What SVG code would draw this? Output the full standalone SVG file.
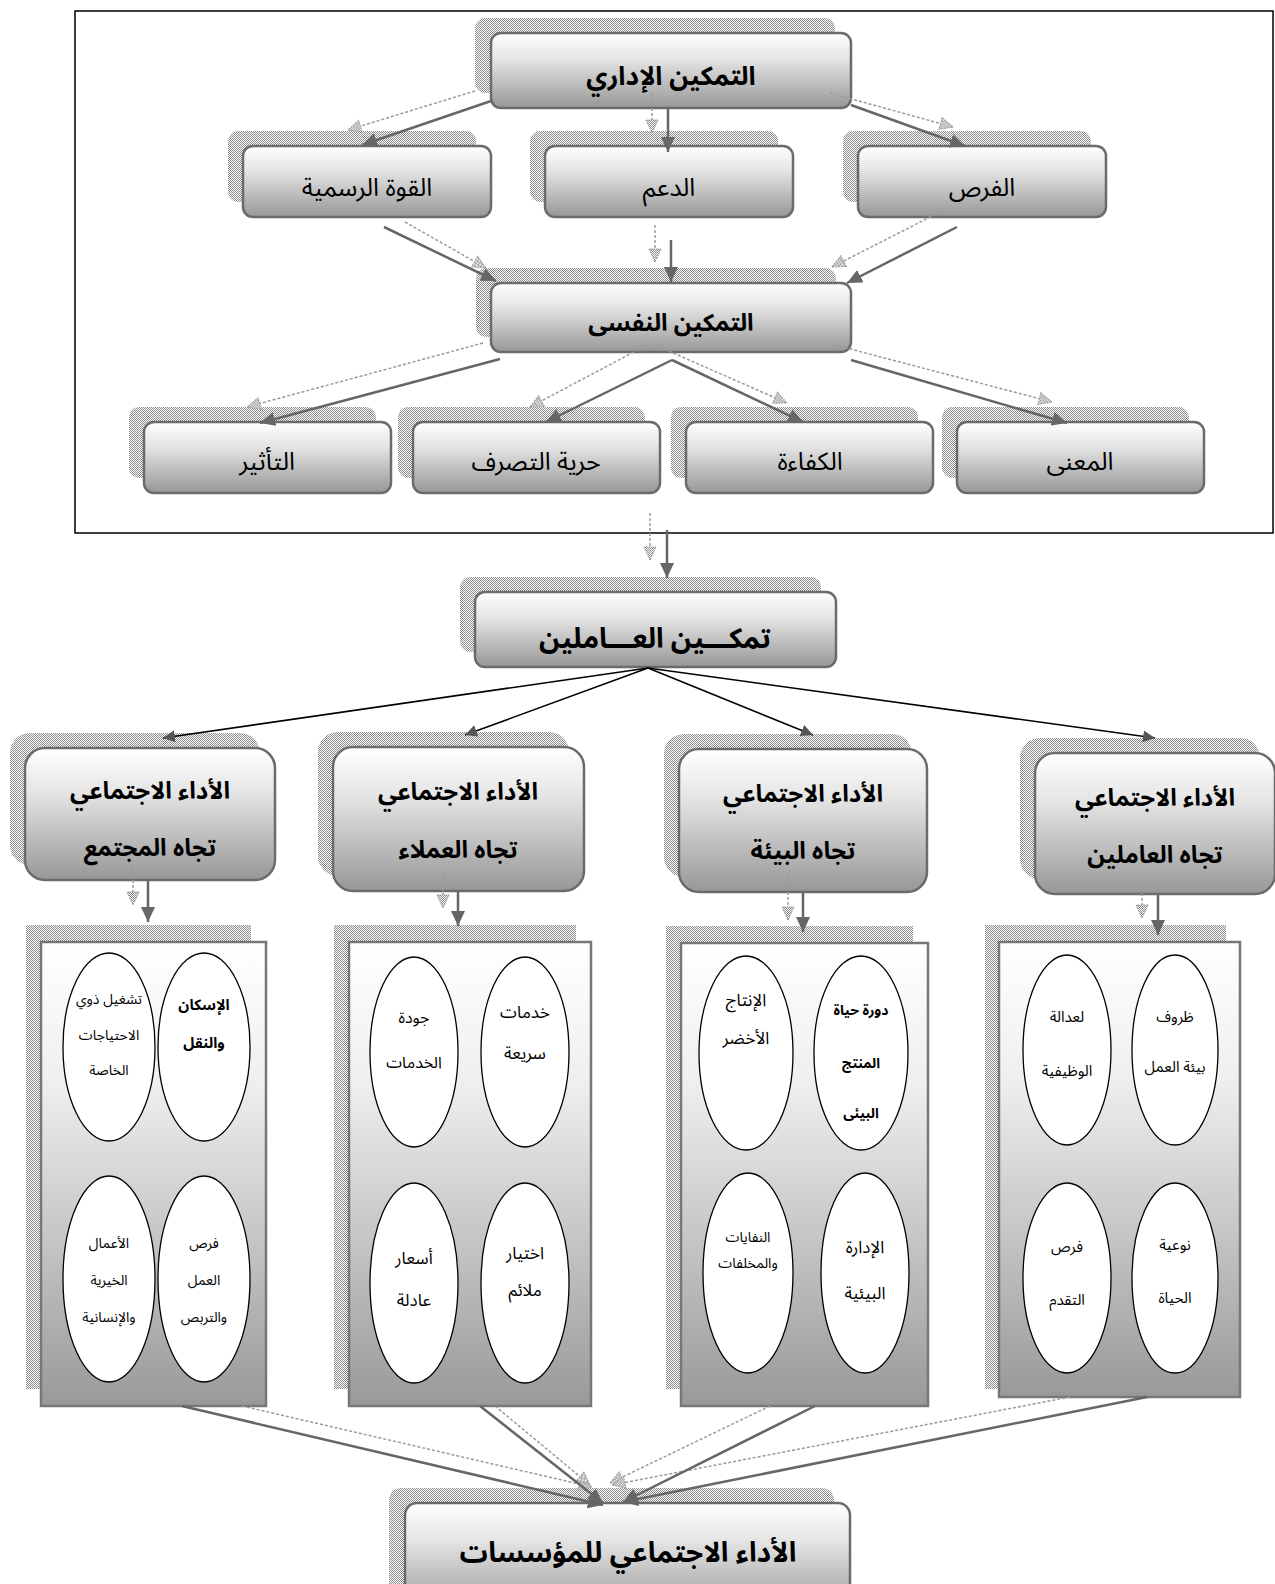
<svg xmlns="http://www.w3.org/2000/svg" width="1275" height="1584" viewBox="0 0 1275 1584">
  <style>
    .t { font-family: "Noto Sans Arabic", "DejaVu Sans", "Liberation Sans", sans-serif; fill: #000; text-anchor: middle; }
    .b { font-weight: bold; }
    .box { fill: url(#boxG); stroke: #6b6b6b; stroke-width: 2.5; }
    .panel { fill: url(#panelG); stroke: #777; stroke-width: 2.5; }
    .shd { fill: url(#chk); }
    .ell { fill: #fff; stroke: #000; stroke-width: 1.3; }
    .sol { stroke: #666; stroke-width: 2.5; fill: none; marker-end: url(#ah); }
    .dot { stroke: #9a9a9a; stroke-width: 1.5; stroke-dasharray: 3 2; fill: none; marker-end: url(#ahS); }
    .blk { stroke: #000; stroke-width: 1.6; fill: none; marker-end: url(#ahK); }
  </style>
  <defs>
    <pattern id="chk" width="2" height="2" patternUnits="userSpaceOnUse">
      <rect width="2" height="2" fill="#fff"/>
      <rect width="1" height="1" fill="#8a8a8a"/>
      <rect x="1" y="1" width="1" height="1" fill="#8a8a8a"/>
    </pattern>
    <linearGradient id="boxG" x1="0" y1="0" x2="0" y2="1">
      <stop offset="0" stop-color="#ffffff"/>
      <stop offset="0.35" stop-color="#e4e4e4"/>
      <stop offset="1" stop-color="#979797"/>
    </linearGradient>
    <linearGradient id="panelG" x1="0" y1="0" x2="0" y2="1">
      <stop offset="0" stop-color="#ffffff"/>
      <stop offset="0.3" stop-color="#efefef"/>
      <stop offset="1" stop-color="#999999"/>
    </linearGradient>
    <marker id="ah" markerUnits="userSpaceOnUse" markerWidth="16" markerHeight="14" refX="15" refY="7" orient="auto">
      <path d="M0,0 L15,7 L0,14 Z" fill="#666"/>
    </marker>
    <marker id="ahS" markerUnits="userSpaceOnUse" markerWidth="16" markerHeight="16" refX="14" refY="7" orient="auto">
      <path d="M1,1 L14,7 L1,13 Z" fill="url(#chk)" stroke="#9a9a9a" stroke-width="1" stroke-dasharray="2 1"/>
    </marker>
    <marker id="ahK" markerUnits="userSpaceOnUse" markerWidth="14" markerHeight="12" refX="12" refY="6" orient="auto">
      <path d="M0,0 L12,6 L0,12 Z" fill="#555"/>
    </marker>
  </defs>

  <rect width="1275" height="1584" fill="#fff"/>

  <!-- frame around the empowerment dimensions -->
  <rect id="frame" x="75" y="11" width="1198" height="522" fill="none" stroke="#000" stroke-width="1.5"/>

  <!-- top section -->
  <g id="n-admin">
    <rect class="shd" x="475" y="18" width="360" height="75" rx="10"/>
    <rect class="box" x="491" y="33" width="360" height="75" rx="10"/>
    <text class="t b" x="671" y="85" font-size="26">التمكين الإداري</text>
  </g>
  <g id="n-authority">
    <rect class="shd" x="228" y="131" width="248" height="71" rx="10"/>
    <rect class="box" x="243" y="146" width="248" height="71" rx="10"/>
    <text class="t" x="367" y="196" font-size="25">القوة الرسمية</text>
  </g>
  <g id="n-support">
    <rect class="shd" x="530" y="131" width="248" height="71" rx="10"/>
    <rect class="box" x="545" y="146" width="248" height="71" rx="10"/>
    <text class="t" x="669" y="196" font-size="25">الدعم</text>
  </g>
  <g id="n-opportunity">
    <rect class="shd" x="843" y="131" width="248" height="71" rx="10"/>
    <rect class="box" x="858" y="146" width="248" height="71" rx="10"/>
    <text class="t" x="982" y="196" font-size="25">الفرص</text>
  </g>
  <g id="n-psych">
    <rect class="shd" x="476" y="268" width="360" height="69" rx="10"/>
    <rect class="box" x="491" y="283" width="360" height="69" rx="10"/>
    <text class="t b" x="671" y="331" font-size="24">التمكين النفسى</text>
  </g>
  <g id="n-impact">
    <rect class="shd" x="129" y="407" width="247" height="71" rx="10"/>
    <rect class="box" x="144" y="422" width="247" height="71" rx="10"/>
    <text class="t" x="267" y="470" font-size="25">التأثير</text>
  </g>
  <g id="n-autonomy">
    <rect class="shd" x="398" y="407" width="247" height="71" rx="10"/>
    <rect class="box" x="413" y="422" width="247" height="71" rx="10"/>
    <text class="t" x="536" y="470" font-size="25">حرية التصرف</text>
  </g>
  <g id="n-competence">
    <rect class="shd" x="671" y="407" width="247" height="71" rx="10"/>
    <rect class="box" x="686" y="422" width="247" height="71" rx="10"/>
    <text class="t" x="810" y="470" font-size="25">الكفاءة</text>
  </g>
  <g id="n-meaning">
    <rect class="shd" x="942" y="407" width="247" height="71" rx="10"/>
    <rect class="box" x="957" y="422" width="247" height="71" rx="10"/>
    <text class="t" x="1080" y="470" font-size="25">المعنى</text>
  </g>

  <!-- central node -->
  <g id="n-employees">
    <rect class="shd" x="460" y="577" width="361" height="75" rx="10"/>
    <rect class="box" x="475" y="592" width="361" height="75" rx="10"/>
    <text class="t b" x="655" y="648" font-size="28">تمكـــين العـــاملين</text>
  </g>

  <!-- social performance dimensions -->
  <g id="n-society">
    <rect class="shd" x="10" y="733" width="250" height="132" rx="20"/>
    <rect class="box" x="25" y="748" width="250" height="132" rx="20"/>
    <text class="t b" x="150" y="799" font-size="24">الأداء الاجتماعي</text>
    <text class="t b" x="150" y="856" font-size="24">تجاه المجتمع</text>
  </g>
  <g id="n-customers">
    <rect class="shd" x="318" y="732" width="251" height="144" rx="20"/>
    <rect class="box" x="333" y="747" width="251" height="144" rx="20"/>
    <text class="t b" x="458" y="800" font-size="24">الأداء الاجتماعي</text>
    <text class="t b" x="458" y="858" font-size="24">تجاه العملاء</text>
  </g>
  <g id="n-environment">
    <rect class="shd" x="664" y="734" width="248" height="143" rx="20"/>
    <rect class="box" x="679" y="749" width="248" height="143" rx="20"/>
    <text class="t b" x="803" y="802" font-size="24">الأداء الاجتماعي</text>
    <text class="t b" x="803" y="859" font-size="24">تجاه البيئة</text>
  </g>
  <g id="n-workers">
    <rect class="shd" x="1020" y="738" width="240" height="141" rx="20"/>
    <rect class="box" x="1035" y="753" width="240" height="141" rx="20"/>
    <text class="t b" x="1155" y="806" font-size="24">الأداء الاجتماعي</text>
    <text class="t b" x="1155" y="863" font-size="24">تجاه العاملين</text>
  </g>

  <!-- panels with their elements -->
  <g id="p-society">
    <rect class="shd" x="26" y="925" width="225" height="464"/>
    <rect class="panel" x="41" y="942" width="225" height="464"/>
    <ellipse class="ell" cx="109" cy="1047" rx="46" ry="94"/>
    <ellipse class="ell" cx="204" cy="1047" rx="46" ry="94"/>
    <ellipse class="ell" cx="109" cy="1279" rx="46" ry="103"/>
    <ellipse class="ell" cx="204" cy="1279" rx="46" ry="103"/>
    <text class="t" x="109" y="1004" font-size="14">تشغيل ذوي</text>
    <text class="t" x="109" y="1040" font-size="14">الاحتياجات</text>
    <text class="t" x="109" y="1075" font-size="14">الخاصة</text>
    <text class="t b" x="204" y="1010" font-size="15">الإسكان</text>
    <text class="t b" x="204" y="1048" font-size="15">والنقل</text>
    <text class="t" x="109" y="1248" font-size="14">الأعمال</text>
    <text class="t" x="109" y="1285" font-size="14">الخيرية</text>
    <text class="t" x="109" y="1322" font-size="14">والإنسانية</text>
    <text class="t" x="204" y="1248" font-size="14">فرص</text>
    <text class="t" x="204" y="1285" font-size="14">العمل</text>
    <text class="t" x="204" y="1322" font-size="14">والتربص</text>
  </g>
  <g id="p-customers">
    <rect class="shd" x="334" y="925" width="242" height="464"/>
    <rect class="panel" x="349" y="942" width="242" height="464"/>
    <ellipse class="ell" cx="414" cy="1052" rx="44" ry="95"/>
    <ellipse class="ell" cx="525" cy="1052" rx="44" ry="95"/>
    <ellipse class="ell" cx="414" cy="1283" rx="44" ry="100"/>
    <ellipse class="ell" cx="525" cy="1283" rx="44" ry="100"/>
    <text class="t" x="414" y="1023" font-size="16">جودة</text>
    <text class="t" x="414" y="1068" font-size="16">الخدمات</text>
    <text class="t" x="525" y="1018" font-size="17">خدمات</text>
    <text class="t" x="525" y="1059" font-size="17">سريعة</text>
    <text class="t" x="414" y="1264" font-size="17">أسعار</text>
    <text class="t" x="414" y="1306" font-size="17">عادلة</text>
    <text class="t" x="525" y="1259" font-size="17">اختيار</text>
    <text class="t" x="525" y="1296" font-size="17">ملائم</text>
  </g>
  <g id="p-environment">
    <rect class="shd" x="666" y="926" width="247" height="463"/>
    <rect class="panel" x="681" y="943" width="247" height="463"/>
    <ellipse class="ell" cx="746" cy="1053" rx="47" ry="97"/>
    <ellipse class="ell" cx="861" cy="1053" rx="47" ry="97"/>
    <ellipse class="ell" cx="748" cy="1273" rx="45" ry="100"/>
    <ellipse class="ell" cx="865" cy="1273" rx="44" ry="100"/>
    <text class="t" x="746" y="1006" font-size="17">الإنتاج</text>
    <text class="t" x="746" y="1044" font-size="17">الأخضر</text>
    <text class="t b" x="861" y="1015" font-size="14">دورة حياة</text>
    <text class="t b" x="861" y="1068" font-size="14">المنتج</text>
    <text class="t b" x="861" y="1118" font-size="14">البيئى</text>
    <text class="t" x="748" y="1242" font-size="14">النفايات</text>
    <text class="t" x="748" y="1268" font-size="14">والمخلفات</text>
    <text class="t" x="865" y="1253" font-size="17">الإدارة</text>
    <text class="t" x="865" y="1299" font-size="17">البيئية</text>
  </g>
  <g id="p-workers">
    <rect class="shd" x="985" y="925" width="241" height="464"/>
    <rect class="panel" x="999" y="942" width="241" height="455"/>
    <ellipse class="ell" cx="1067" cy="1050" rx="44" ry="95"/>
    <ellipse class="ell" cx="1175" cy="1050" rx="43" ry="95"/>
    <ellipse class="ell" cx="1067" cy="1278" rx="44" ry="95"/>
    <ellipse class="ell" cx="1175" cy="1278" rx="43" ry="95"/>
    <text class="t" x="1067" y="1022" font-size="15">لعدالة</text>
    <text class="t" x="1067" y="1076" font-size="15">الوظيفية</text>
    <text class="t" x="1175" y="1022" font-size="15">ظروف</text>
    <text class="t" x="1175" y="1072" font-size="15">بيئة العمل</text>
    <text class="t" x="1067" y="1252" font-size="15">فرص</text>
    <text class="t" x="1067" y="1305" font-size="15">التقدم</text>
    <text class="t" x="1175" y="1250" font-size="15">نوعية</text>
    <text class="t" x="1175" y="1303" font-size="15">الحياة</text>
  </g>

  <!-- final node -->
  <g id="n-institutions">
    <rect class="shd" x="389" y="1488" width="445" height="110" rx="12"/>
    <rect class="box" x="405" y="1503" width="445" height="110" rx="12"/>
    <text class="t b" x="628" y="1562" font-size="28">الأداء الاجتماعي للمؤسسات</text>
  </g>

  <!-- connectors -->
  <g id="connectors">
    <!-- dotted shadow arrows -->
    <line class="dot" x1="475" y1="91" x2="348" y2="130"/>
    <line class="dot" x1="652" y1="93" x2="652" y2="133"/>
    <line class="dot" x1="830" y1="93" x2="953" y2="127"/>
    <line class="dot" x1="405" y1="222" x2="486" y2="268"/>
    <line class="dot" x1="655" y1="225" x2="655" y2="262"/>
    <line class="dot" x1="940" y1="212" x2="832" y2="267"/>
    <line class="dot" x1="483" y1="343" x2="247" y2="407"/>
    <line class="dot" x1="647" y1="345" x2="530" y2="407"/>
    <line class="dot" x1="655" y1="345" x2="787" y2="403"/>
    <line class="dot" x1="835" y1="345" x2="1052" y2="402"/>
    <line class="dot" x1="650" y1="513" x2="650" y2="560"/>
    <line class="dot" x1="133" y1="865" x2="133" y2="905"/>
    <line class="dot" x1="443" y1="873" x2="443" y2="908"/>
    <line class="dot" x1="788" y1="877" x2="788" y2="920"/>
    <line class="dot" x1="1142" y1="878" x2="1142" y2="918"/>
    <line class="dot" x1="242" y1="1406" x2="592" y2="1487"/>
    <line class="dot" x1="495" y1="1406" x2="590" y2="1485"/>
    <line class="dot" x1="770" y1="1406" x2="610" y2="1483"/>
    <line class="dot" x1="1070" y1="1397" x2="612" y2="1485"/>

    <!-- solid arrows -->
    <line class="sol" x1="491" y1="101" x2="362" y2="145"/>
    <line class="sol" x1="668" y1="108" x2="668" y2="152"/>
    <line class="sol" x1="851" y1="105" x2="965" y2="146"/>
    <line class="sol" x1="384" y1="227" x2="496" y2="281"/>
    <line class="sol" x1="671" y1="240" x2="671" y2="282"/>
    <line class="sol" x1="957" y1="227" x2="847" y2="283"/>
    <line class="sol" x1="500" y1="359" x2="260" y2="423"/>
    <line class="sol" x1="672" y1="360" x2="546" y2="422"/>
    <line class="sol" x1="672" y1="360" x2="803" y2="422"/>
    <line class="sol" x1="851" y1="360" x2="1067" y2="423"/>
    <line class="sol" x1="667" y1="530" x2="667" y2="578"/>
    <line class="sol" x1="148" y1="881" x2="148" y2="922"/>
    <line class="sol" x1="458" y1="892" x2="458" y2="926"/>
    <line class="sol" x1="803" y1="893" x2="803" y2="932"/>
    <line class="sol" x1="1158" y1="895" x2="1158" y2="935"/>
    <line class="sol" x1="182" y1="1406" x2="603" y2="1505"/>
    <line class="sol" x1="480" y1="1406" x2="603" y2="1503"/>
    <line class="sol" x1="815" y1="1406" x2="623" y2="1502"/>
    <line class="sol" x1="1147" y1="1397" x2="623" y2="1502"/>

    <!-- black branches from the central node -->
    <line class="blk" x1="648" y1="668" x2="163" y2="738"/>
    <line class="blk" x1="648" y1="668" x2="465" y2="735"/>
    <line class="blk" x1="648" y1="668" x2="813" y2="735"/>
    <line class="blk" x1="648" y1="668" x2="1155" y2="738"/>
  </g>
</svg>
